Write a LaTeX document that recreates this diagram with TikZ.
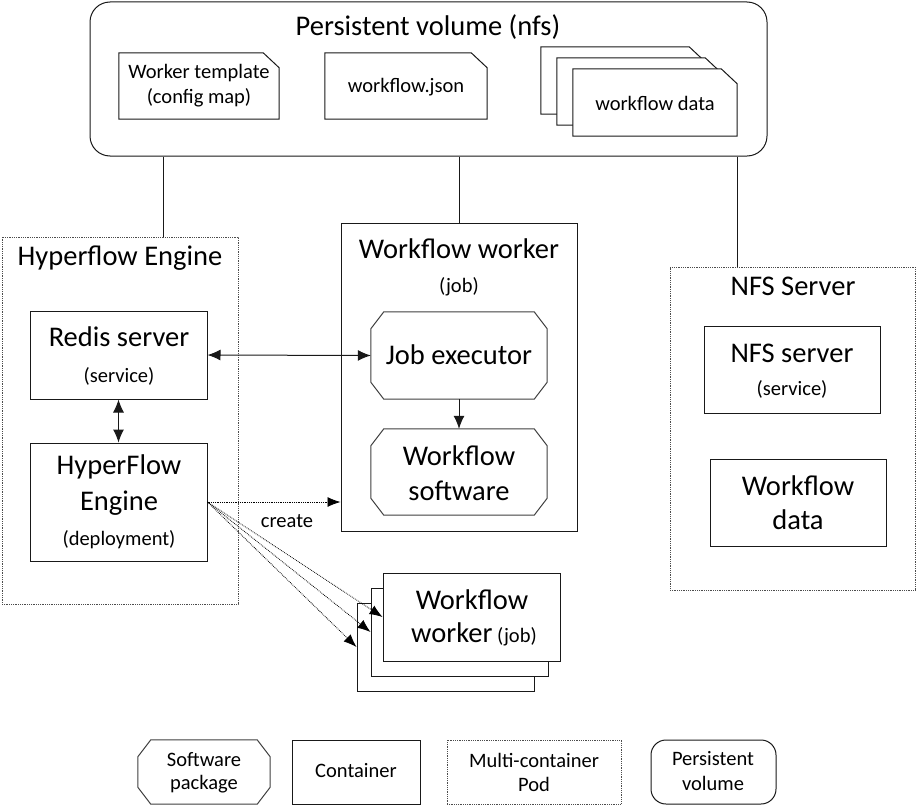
\documentclass[tikz,border=0pt]{standalone}
\usepackage{fontspec}
\setmainfont{Carlito}
\usetikzlibrary{arrows.meta}
\newcommand\bigf{\fontsize{28.5}{32}\selectfont}
\newcommand\smallf{\fontsize{20.5}{24}\selectfont}
\begin{document}
\begin{tikzpicture}[x=1pt,y=-1pt,
  box/.style={draw=black!90,line width=1pt,fill=white,inner sep=0pt},
  pod/.style={draw=black!70,densely dotted,line width=0.8pt,inner sep=0pt},
  bare/.style={inner sep=0pt},
  txt/.style={inner sep=0pt,align=center},
  conn/.style={draw=black!90,line width=1pt},
  tip/.style={-{Latex[length=13pt,width=11pt]}},
  dtip/.style={{Latex[length=13pt,width=11pt]}-{Latex[length=13pt,width=11pt]}},
  dot/.style={densely dotted,line width=0.8pt,-{Latex[length=13pt,width=10pt]}}
]
\useasboundingbox (0,0) rectangle (917,808);
\newcommand\docshape[1]{\draw[conn,fill=white] (#1.south west) -- (#1.north west) -- ([xshift=-16pt]#1.north east) -- ([yshift=-15pt]#1.north east) -- (#1.south east) -- cycle;}
\newcommand\octshape[1]{\draw[conn,draw=black!75,fill=white] ([xshift=13pt]#1.north west) -- ([xshift=-13pt]#1.north east) -- ([yshift=-17pt]#1.north east) -- ([yshift=17pt]#1.south east) -- ([xshift=-13pt]#1.south east) -- ([xshift=13pt]#1.south west) -- ([yshift=17pt]#1.south west) -- ([yshift=-17pt]#1.north west) -- cycle;}
% persistent volume
\node[box,rounded corners=20pt,minimum width=677pt,minimum height=154pt] (pv) at (428.5,79) {};
\node[txt,font=\bigf] (pvt) at (428,27) {Persistent volume (nfs)};
% documents
\node[bare,minimum width=160pt,minimum height=66pt] (wt) at (199,86) {};
\docshape{wt}
\node[txt,font=\smallf] (wtt1) at (199,73) {Worker template};
\node[txt,font=\smallf] (wtt2) at (199,98) {(config map)};
\node[bare,minimum width=162pt,minimum height=66pt] (wj) at (406,86) {};
\docshape{wj}
\node[txt,font=\smallf] (wjt) at (406,87) {workflow.json};
\node[bare,minimum width=164pt,minimum height=67pt] (wd1) at (623,80.5) {};
\docshape{wd1}
\node[bare,minimum width=164pt,minimum height=67pt] (wd2) at (639,91.5) {};
\docshape{wd2}
\node[bare,minimum width=164pt,minimum height=67pt] (wd3) at (655,102.5) {};
\docshape{wd3}
\node[txt,font=\smallf] (wdt) at (655,103) {workflow data};
% Hyperflow engine pod
\node[pod,minimum width=236pt,minimum height=367pt] (hep) at (120,420.5) {};
\node[txt,font=\bigf] (hept) at (120,258) {Hyperflow Engine};
\node[box,minimum width=177pt,minimum height=88pt] (redis) at (118.5,355) {};
\node[txt,font=\bigf] (redist1) at (119,337) {Redis server};
\node[txt,font=\smallf] (redist2) at (119,376) {(service)};
\node[box,minimum width=177pt,minimum height=118pt] (hf) at (118.5,502) {};
\node[txt,font=\bigf] (hft1) at (119,467) {HyperFlow};
\node[txt,font=\bigf] (hft2) at (119,503) {Engine};
\node[txt,font=\smallf] (hft3) at (119,540) {(deployment)};
% Workflow worker
\node[box,minimum width=236pt,minimum height=308pt] (ww) at (459,377) {};
\node[txt,font=\bigf] (wwt1) at (459,249) {Workflow worker};
\node[txt,font=\smallf] (wwt2) at (459,287) {(job)};
\node[bare,minimum width=176pt,minimum height=87pt] (je) at (459,355.5) {};
\octshape{je}
\node[txt,font=\bigf] (jet) at (459,355) {Job executor};
\node[bare,minimum width=176pt,minimum height=86pt] (ws) at (459,472) {};
\octshape{ws}
\node[txt,font=\bigf] (wst1) at (459,456) {Workflow};
\node[txt,font=\bigf] (wst2) at (459,491) {software};
% NFS server pod
\node[pod,minimum width=245pt,minimum height=323pt] (nfsp) at (792.5,428.5) {};
\node[txt,font=\bigf] (nfspt) at (793,286) {NFS Server};
\node[box,minimum width=176pt,minimum height=87pt] (nfs) at (792,369.5) {};
\node[txt,font=\bigf] (nfst1) at (792,353) {NFS server};
\node[txt,font=\smallf] (nfst2) at (792,389) {(service)};
\node[box,minimum width=176pt,minimum height=87pt] (nd) at (798,502.5) {};
\node[txt,font=\bigf] (ndt1) at (798,486) {Workflow};
\node[txt,font=\bigf] (ndt2) at (798,520) {data};
% stacked workers
\node[box,minimum width=177pt,minimum height=88pt] (wk1) at (445.5,647) {};
\node[box,minimum width=177pt,minimum height=88pt] (wk2) at (459.5,632) {};
\node[box,minimum width=177pt,minimum height=88pt] (wk3) at (471.5,617) {};
\node[txt,font=\bigf] (wkt1) at (472,600) {Workflow};
\node[txt] (wkt2) at (474,634) {\bigf worker\,\smallf(job)};
% connectors from persistent volume
\draw[conn] (pv.south -| 163,0) -- (hep.north -| 163,0);
\draw[conn] (pv.south -| ww.north) -- (ww.north);
\draw[conn] (pv.south -| 737,0) -- (nfsp.north -| 737,0);
% arrows
\draw[conn,dtip] (redis.east) -- (je.west);
\draw[conn,dtip] (redis.south) -- (hf.north);
\draw[conn,tip] (je.south) -- (ws.north);
\draw[dot] (hf.east) -- (hf.east -| ww.west);
\node[txt,font=\smallf] (create) at (287,521) {create};
\draw[dot] (hf.east) -- (wk1.west);
\draw[dot] (hf.east) -- (wk2.west);
\draw[dot] (hf.east) -- (wk3.west);
% legend
\node[bare,minimum width=132pt,minimum height=64pt] (lg1) at (204,772) {};
\octshape{lg1}
\node[txt,font=\smallf] (lg1t1) at (204,760) {Software};
\node[txt,font=\smallf] (lg1t2) at (204,784) {package};
\node[box,minimum width=128pt,minimum height=64pt] (lg2) at (356,772) {};
\node[txt,font=\smallf] (lg2t) at (356,771) {Container};
\node[pod,minimum width=174pt,minimum height=64pt] (lg3) at (534,772) {};
\node[txt,font=\smallf] (lg3t1) at (534,760) {Multi-container};
\node[txt,font=\smallf] (lg3t2) at (534,784) {Pod};
\node[box,rounded corners=15pt,minimum width=125pt,minimum height=64pt] (lg4) at (713.5,772) {};
\node[txt,font=\smallf] (lg4t1) at (713,759) {Persistent};
\node[txt,font=\smallf] (lg4t2) at (713,783) {volume};
\end{tikzpicture}
\end{document}
